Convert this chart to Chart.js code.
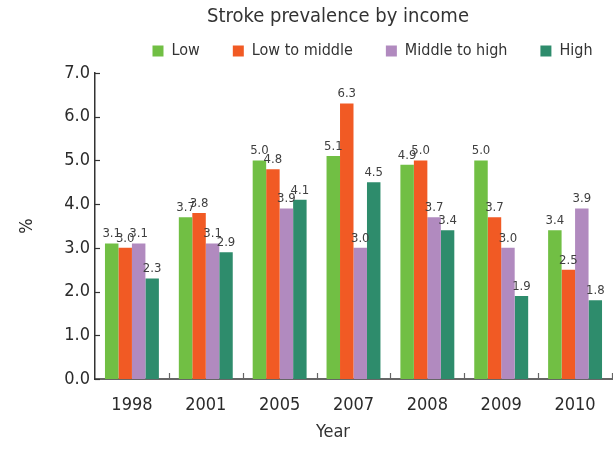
<!DOCTYPE html>
<html>
<head>
<meta charset="utf-8">
<script src="https://cdn.jsdelivr.net/npm/chart.js@4/dist/chart.umd.min.js"></script>
<style>
  html, body { margin: 0; padding: 0; background: #fff; }
  #wrap { width: 613px; height: 449px; }
</style>
</head>
<body>
<div id="wrap"><canvas id="myChart" width="613" height="449"></canvas></div>
<script>
const years = ['1998', '2001', '2005', '2007', '2008', '2009', '2010'];
const low = [3.1, 3.7, 5.0, 5.1, 4.9, 5.0, 3.4];
const lowToMiddle = [3.0, 3.8, 4.8, 6.3, 5.0, 3.7, 2.5];
const middleToHigh = [3.1, 3.1, 3.9, 3.0, 3.7, 3.0, 3.9];
const high = [2.3, 2.9, 4.1, 4.5, 3.4, 1.9, 1.8];
const yTicks = [0, 1, 2, 3, 4, 5, 6, 7];

const FONT = "'Liberation Sans Narrow', 'DejaVu Sans Condensed', 'Arial Narrow', sans-serif";
const TEXT = '#2b2b2b';

// nudge the legend a little right and up from where the layout puts it
const legendOffset = {
  id: 'legendOffset',
  afterLayout(chart) {
    const lg = chart.legend;
    if (!lg) return;
    lg.left += 19; lg.right += 19;
    lg.top -= 4; lg.bottom -= 4;
  }
};

// value labels, inward tick marks, chart title and x-axis title
const decorations = {
  id: 'decorations',
  afterDatasetsDraw(chart) {
    const { ctx, chartArea, scales: { x, y } } = chart;
    ctx.save();

    ctx.fillStyle = '#404040';
    ctx.font = '13px ' + FONT;
    ctx.textAlign = 'center';
    ctx.textBaseline = 'bottom';
    chart.data.datasets.forEach((ds, i) => {
      chart.getDatasetMeta(i).data.forEach((bar, j) => {
        ctx.fillText(ds.data[j].toFixed(1), bar.x, bar.y - 3);
      });
    });

    ctx.lineWidth = 1.2;
    ctx.strokeStyle = '#333';
    yTicks.forEach(v => {
      const py = Math.round(y.getPixelForValue(v)) + 0.5;
      ctx.beginPath();
      ctx.moveTo(chartArea.left, py);
      ctx.lineTo(chartArea.left + 5, py);
      ctx.stroke();
    });

    ctx.strokeStyle = '#666';
    const step = x.getPixelForValue(1) - x.getPixelForValue(0);
    for (let i = 1; i <= years.length; i++) {
      const px = Math.round(x.getPixelForValue(i) - step / 2) + 0.5;
      ctx.beginPath();
      ctx.moveTo(px, chartArea.bottom);
      ctx.lineTo(px, chartArea.bottom - 6);
      ctx.stroke();
    }

    ctx.fillStyle = '#333';
    ctx.textBaseline = 'middle';
    ctx.font = '20px ' + FONT;
    ctx.fillText('Stroke prevalence by income', 338, 17);
    ctx.font = '18px ' + FONT;
    ctx.fillText('Year', 333, 432);
    ctx.restore();
  }
};

const ctx = document.getElementById('myChart').getContext('2d');
const chart = new Chart(ctx, {
  type: 'bar',
  data: {
    labels: years,
    datasets: [
      { label: 'Low', backgroundColor: '#71bf44', data: low },
      { label: 'Low to middle', backgroundColor: '#f15a24', data: lowToMiddle },
      { label: 'Middle to high', backgroundColor: '#b18abf', data: middleToHigh },
      { label: 'High', backgroundColor: '#2e8c6c', data: high }
    ]
  },
  options: {
    responsive: false,
    animation: false,
    layout: { padding: { top: 14, right: 1, left: 0, bottom: 0 } },
    datasets: { bar: { categoryPercentage: 0.73, barPercentage: 1.0 } },
    plugins: {
      legend: {
        position: 'top',
        fullSize: false,
        align: 'center',
        labels: {
          boxWidth: 11,
          boxHeight: 11,
          padding: 33,
          color: '#333',
          font: { family: FONT, size: 16 }
        }
      },
      tooltip: { enabled: false }
    },
    scales: {
      x: {
        grid: { display: false, drawTicks: false },
        border: { display: true, color: '#666', width: 2 },
        ticks: { color: TEXT, padding: 16, font: { family: FONT, size: 18 } },
        afterFit(scale) { scale.height = 70; }
      },
      y: {
        min: 0,
        max: 7,
        grid: { display: false, drawTicks: false },
        border: { display: true, color: '#333', width: 1.5 },
        ticks: {
          stepSize: 1,
          color: TEXT,
          padding: 5,
          font: { family: FONT, size: 18 },
          callback: v => v.toFixed(1)
        },
        title: {
          display: true,
          text: '%',
          color: TEXT,
          padding: { top: 17, bottom: 0 },
          font: { family: FONT, size: 18 }
        },
        afterFit(scale) { scale.width = 95; }
      }
    }
  },
  plugins: [legendOffset, decorations]
});
</script>
</body>
</html>
